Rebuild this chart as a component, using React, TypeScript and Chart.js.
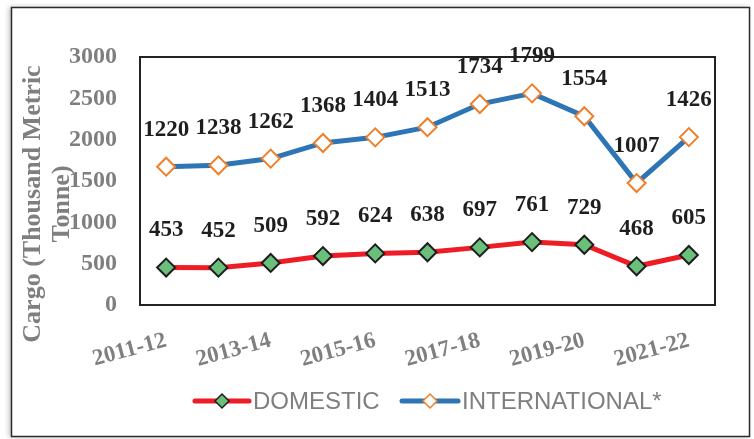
import React, { useEffect, useRef } from "react";
import { Chart, registerables } from "chart.js";

Chart.register(...registerables);

const categories = [
  "2011-12", "2012-13", "2013-14", "2014-15", "2015-16", "2016-17",
  "2017-18", "2018-19", "2019-20", "2020-21", "2021-22",
];
const domestic = [453, 452, 509, 592, 624, 638, 697, 761, 729, 468, 605];
const international = [1220, 1238, 1262, 1368, 1404, 1513, 1734, 1799, 1554, 1007, 1426];
const yTicks = [0, 500, 1000, 1500, 2000, 2500, 3000];
const yTitleLines = ["Cargo (Thousand Metric", "Tonne)"];
const seriesNames = ["DOMESTIC", "INTERNATIONAL*"];

const SERIF = "'Liberation Serif', 'DejaVu Serif', serif";
const SANS = "'Liberation Sans', Arial, sans-serif";
const GRAY = "#7f7f7f";

const decorPlugin = {
  id: "decor",
  beforeDraw(chart: any) {
    const ctx = chart.ctx;
    ctx.save();
    ctx.fillStyle = "#ffffff";
    ctx.fillRect(0, 0, chart.width, chart.height);
    ctx.shadowColor = "rgba(0,0,0,0.25)";
    ctx.shadowBlur = 5;
    ctx.shadowOffsetX = -2;
    ctx.shadowOffsetY = 0;
    ctx.fillRect(11, 7, 739, 430);
    ctx.shadowColor = "transparent";
    ctx.strokeStyle = "#2b2b2b";
    ctx.lineWidth = 1.5;
    ctx.strokeRect(11.5, 7.5, 738, 429);
    ctx.restore();
  },
  afterDatasetsDraw(chart: any) {
    const ctx = chart.ctx;
    const area = chart.chartArea;
    ctx.save();
    ctx.strokeStyle = "#222222";
    ctx.lineWidth = 2;
    ctx.strokeRect(area.left, area.top, area.right - area.left, area.bottom - area.top);

    ctx.fillStyle = "#1e1e1e";
    ctx.font = `bold 23px ${SERIF}`;
    ctx.textAlign = "center";
    ctx.textBaseline = "middle";
    chart.data.datasets.forEach((ds: any, i: number) => {
      const meta = chart.getDatasetMeta(i);
      meta.data.forEach((pt: any, j: number) => {
        ctx.fillText(String(ds.data[j]), pt.x, pt.y - 37);
      });
    });

    ctx.fillStyle = GRAY;
    ctx.font = `bold 26px ${SERIF}`;
    const cy = 204;
    const xs = [33, 62];
    yTitleLines.forEach((line, k) => {
      ctx.save();
      ctx.translate(xs[k], cy);
      ctx.rotate(-Math.PI / 2);
      ctx.fillText(line, 0, 0);
      ctx.restore();
    });

    const ly = 401;
    const items = [
      { x0: 195, x1: 249, text: seriesNames[0], line: "#ee1c25", fill: "#6abf7b", stroke: "#1e1e1e" },
      { x0: 402, x1: 458, text: seriesNames[1], line: "#2e75b6", fill: "#ffffff", stroke: "#f07f2a" },
    ];
    items.forEach((it) => {
      ctx.strokeStyle = it.line;
      ctx.lineWidth = 5;
      ctx.lineCap = "round";
      ctx.beginPath();
      ctx.moveTo(it.x0, ly);
      ctx.lineTo(it.x1, ly);
      ctx.stroke();
      const mx = (it.x0 + it.x1) / 2;
      const r = 7;
      ctx.beginPath();
      ctx.moveTo(mx - r, ly);
      ctx.lineTo(mx, ly - r);
      ctx.lineTo(mx + r, ly);
      ctx.lineTo(mx, ly + r);
      ctx.closePath();
      ctx.fillStyle = it.fill;
      ctx.fill();
      ctx.lineWidth = 1.5;
      ctx.strokeStyle = it.stroke;
      ctx.stroke();
      ctx.fillStyle = GRAY;
      ctx.font = `24px ${SANS}`;
      ctx.textAlign = "left";
      ctx.textBaseline = "middle";
      ctx.fillText(it.text, it.x1 + 4, ly + 1);
    });
    ctx.restore();
  },
};

export default function App() {
  const ref = useRef<HTMLCanvasElement | null>(null);
  useEffect(() => {
    document.body.style.margin = "0";
    if (!ref.current) return;
    const chart = new Chart(ref.current, {
      type: "line",
      data: {
        labels: categories,
        datasets: [
          {
            label: seriesNames[0],
            data: domestic,
            borderColor: "#ee1c25",
            borderWidth: 5,
            pointStyle: "rectRot",
            pointRadius: 9,
            pointBackgroundColor: "#6abf7b",
            pointBorderColor: "#1e1e1e",
            pointBorderWidth: 2,
            tension: 0,
            fill: false,
          },
          {
            label: seriesNames[1],
            data: international,
            borderColor: "#2e75b6",
            borderWidth: 5,
            pointStyle: "rectRot",
            pointRadius: 9,
            pointBackgroundColor: "#ffffff",
            pointBorderColor: "#f07f2a",
            pointBorderWidth: 2,
            tension: 0,
            fill: false,
          },
        ],
      },
      options: {
        animation: false,
        responsive: false,
        maintainAspectRatio: false,
        layout: { padding: { left: 0, right: 39, top: 57, bottom: 54 } },
        plugins: {
          legend: { display: false },
          tooltip: { enabled: false },
        },
        scales: {
          x: {
            offset: true,
            grid: { display: false, drawTicks: false },
            border: { display: false },
            afterFit(scale: any) {
              scale.height = 80;
            },
            ticks: {
              autoSkip: false,
              minRotation: 15,
              maxRotation: 15,
              padding: 22,
              color: GRAY,
              font: { family: SERIF, size: 23, weight: "bold" },
              callback: (_v: any, i: number) => (i % 2 === 0 ? categories[i] : ""),
            },
          },
          y: {
            stacked: true,
            min: 0,
            max: 3000,
            afterFit(scale: any) {
              scale.width = 140;
            },
            afterBuildTicks(scale: any) {
              scale.ticks = yTicks.map((v) => ({ value: v }));
            },
            grid: { display: false, drawTicks: false },
            border: { display: false },
            ticks: {
              padding: 23,
              color: GRAY,
              font: { family: SERIF, size: 24, weight: "bold" },
              callback: (v: any) => String(v),
            },
          },
        },
      },
      plugins: [decorPlugin],
    });
    return () => chart.destroy();
  }, []);
  return (
    <div style={{ width: 754, height: 439 }}>
      <canvas ref={ref} width={754} height={439} style={{ display: "block" }} />
    </div>
  );
}
